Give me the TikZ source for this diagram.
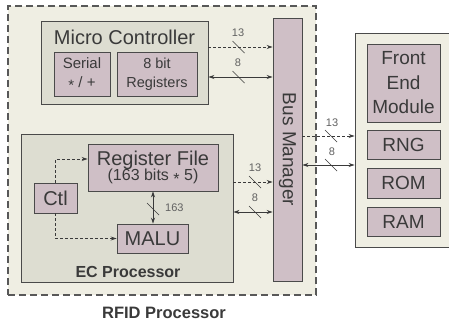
\documentclass[tikz,border=0pt]{standalone}
\usepackage{fontspec}
\setmainfont{Liberation Sans}
\usetikzlibrary{arrows.meta,calc}
\definecolor{beige}{HTML}{EFEEE3}
\definecolor{graybox}{HTML}{DDDDD1}
\definecolor{mauve}{HTML}{CFBFC6}
\definecolor{edge}{HTML}{4A4A4A}
\definecolor{txt}{HTML}{3A3A3A}
\tikzset{
  box/.style={draw=edge, line width=0.9pt, inner sep=0pt, text=txt, align=center},
  outerbox/.style={box, fill=beige},
  midbox/.style={box, fill=graybox},
  unit/.style={box, fill=mauve},
  sig/.style={draw=txt, line width=0.8pt, -{Stealth[length=6pt,width=4pt]}},
  dsig/.style={sig, dash pattern=on 3pt off 2pt},
  bidir/.style={draw=txt, line width=0.8pt, {Stealth[length=6pt,width=4pt]}-{Stealth[length=6pt,width=4pt]}},
  lbl/.style={text=txt!80, font=\fontsize{11}{12}\selectfont, inner sep=0pt},
  slashmark/.pic={\draw[txt, line width=0.7pt] (-6,-6) -- (6,6);}
}
\newcommand{\midast}{\raisebox{-0.2em}{*}}
\begin{document}
\begin{tikzpicture}[x=1pt,y=-1pt]
\clip (0,0) rectangle (449,327);
\fill[white] (0,0) rectangle (449,327);
% RFID processor (dashed)
\node[draw=txt!85, fill=beige, line width=1.2pt, dash pattern=on 7pt off 4pt, minimum width=308pt, minimum height=289pt, inner sep=0pt] (rfid) at (162,150.5) {};
\node[font=\bfseries\fontsize{16.5}{18}\selectfont, text=txt] (rfidlbl) at (164,313) {RFID Processor};
% Micro controller
\node[midbox, minimum width=167pt, minimum height=83pt] (mc) at (124.5,62.5) {};
\node[text=txt, font=\fontsize{20}{22}\selectfont, inner sep=0pt] (mclbl) at (124.5,37) {Micro Controller};
\node[unit, minimum width=56pt, minimum height=44pt, font=\fontsize{15}{19}\selectfont] (serial) at (82,74) {Serial\\ \midast\ / +};
\node[unit, minimum width=80pt, minimum height=44pt, font=\fontsize{14.5}{19}\selectfont] (reg8) at (157,74) {8 bit\\Registers};
% Bus manager
\node[unit, minimum width=29pt, minimum height=263pt] (bus) at (287.5,149.5) {};
\node[rotate=-90, text=txt, font=\fontsize{19}{21}\selectfont, inner sep=0pt] (buslbl) at (bus.center) {Bus Manager};
% EC processor
\node[midbox, minimum width=212pt, minimum height=148pt] (ec) at (127,208) {};
\node[font=\bfseries\fontsize{16}{18}\selectfont, text=txt, inner sep=0pt] (eclbl) at (128,272) {EC Processor};
\node[unit, minimum width=130pt, minimum height=47pt] (rf) at (153,167.5) {{\fontsize{20}{22}\selectfont Register File}\\[-1pt]{\fontsize{16}{18}\selectfont (163 bits \midast\ 5)}};
\node[unit, minimum width=43pt, minimum height=30pt, font=\fontsize{20}{22}\selectfont] (ctl) at (55.5,198) {Ctl};
\node[unit, minimum width=71pt, minimum height=29pt, font=\fontsize{20}{22}\selectfont] (malu) at (152.5,238.5) {MALU};
% External module
\node[outerbox, minimum width=115pt, minimum height=214pt] (ext) at (412.5,140) {};
\node[unit, minimum width=73pt, minimum height=78pt, font=\fontsize{19}{24.5}\selectfont] (fem) at (403.5,83) {Front\\End\\Module};
\node[unit, minimum width=73pt, minimum height=29pt, font=\fontsize{19}{21}\selectfont] (rng) at (403.5,144.5) {RNG};
\node[unit, minimum width=73pt, minimum height=30pt, font=\fontsize{19}{21}\selectfont] (rom) at (403.5,183) {ROM};
\node[unit, minimum width=73pt, minimum height=29pt, font=\fontsize{19}{21}\selectfont] (ram) at (403.5,221.5) {RAM};
% MC <-> bus
\coordinate (m1) at (238.5,47);
\coordinate (m2) at (238.5,77);
\draw[dsig] (mc.east |- m1) -- (bus.west |- m1);
\draw[bidir] (mc.east |- m2) -- (bus.west |- m2);
\pic at (m1) {slashmark};
\pic at (m2) {slashmark};
\node[lbl] (l13a) at (238,33) {13};
\node[lbl] (l8a) at (238,63) {8};
% EC <-> bus
\coordinate (e1) at (255,182);
\coordinate (e2) at (255,212);
\draw[dsig] (ec.east |- e1) -- (bus.west |- e1);
\draw[bidir] (ec.east |- e2) -- (bus.west |- e2);
\pic at (e1) {slashmark};
\pic at (e2) {slashmark};
\node[lbl] (l13b) at (255,168) {13};
\node[lbl] (l8b) at (255,198) {8};
% bus <-> ext
\coordinate (x1) at (331,136);
\coordinate (x2) at (331,165);
\draw[dsig] (bus.east |- x1) -- (ext.west |- x1);
\draw[bidir] (bus.east |- x2) -- (ext.west |- x2);
\pic at (x1) {slashmark};
\pic at (x2) {slashmark};
\node[lbl] (l13c) at (332,123) {13};
\node[lbl] (l8c) at (332,152) {8};
% inside EC
\draw[dsig] (ctl.north) |- ($(rf.west)+(0,-8.5)$);
\draw[dsig] (ctl.south) |- (malu.west);
\draw[bidir] (rf.south) -- (rf.south |- malu.north);
\pic at (153,209) {slashmark};
\node[lbl, anchor=west] (l163) at (165,208) {163};
\end{tikzpicture}
\end{document}
